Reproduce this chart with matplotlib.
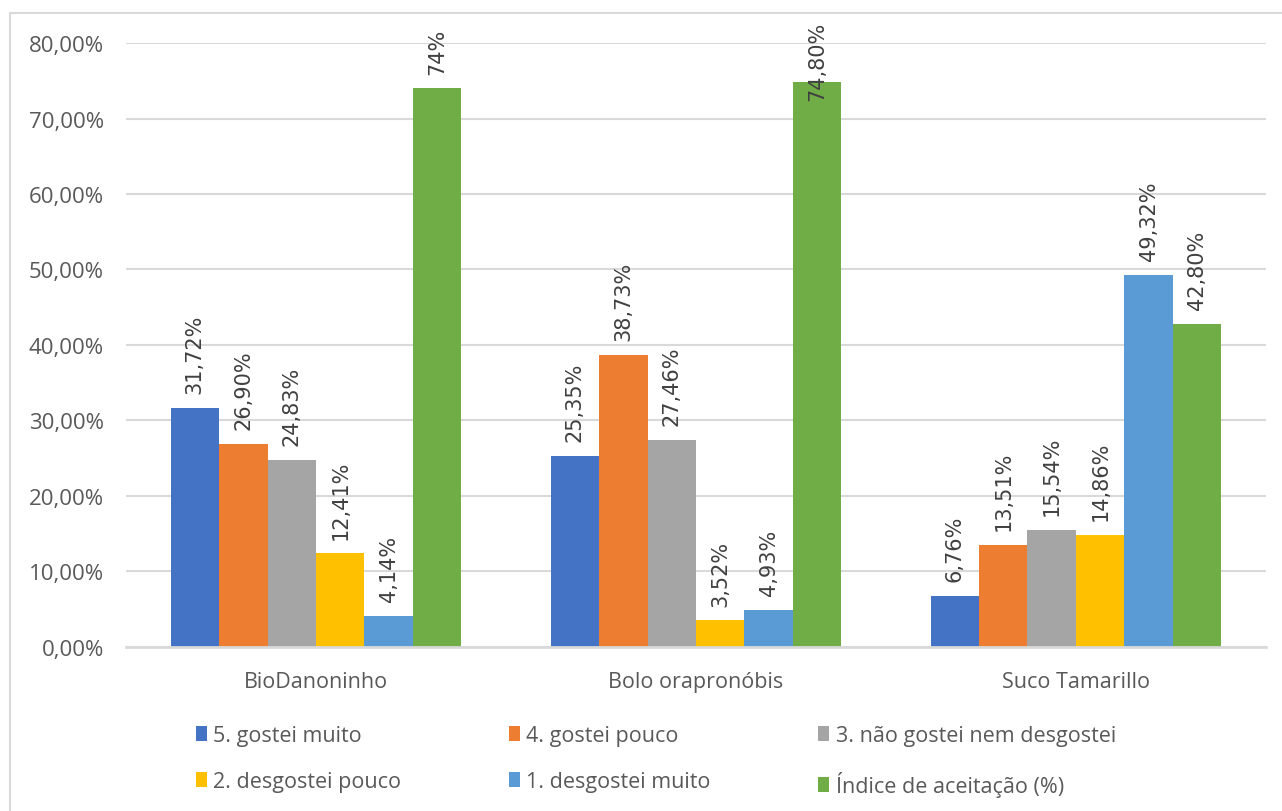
import matplotlib.pyplot as plt
import numpy as np
from matplotlib.patches import Rectangle

categories = ['BioDanoninho', 'Bolo orapronóbis', 'Suco Tamarillo']
series_names = ['5. gostei muito', '4. gostei pouco', '3. não gostei nem desgostei',
                '2. desgostei pouco', '1. desgostei muito', 'Índice de aceitação (%)']
gostei_muito = [31.72, 25.35, 6.76]
gostei_pouco = [26.90, 38.73, 13.51]
nem_nem = [24.83, 27.46, 15.54]
desgostei_pouco = [12.41, 3.52, 14.86]
desgostei_muito = [4.14, 4.93, 49.32]
indice = [74.0, 74.80, 42.80]
value_labels = [
    ['31,72%', '25,35%', '6,76%'],
    ['26,90%', '38,73%', '13,51%'],
    ['24,83%', '27,46%', '15,54%'],
    ['12,41%', '3,52%', '14,86%'],
    ['4,14%', '4,93%', '49,32%'],
    ['74%', '74,80%', '42,80%'],
]
y_ticks = [0, 10, 20, 30, 40, 50, 60, 70, 80]
y_ticklabels = ['0,00%', '10,00%', '20,00%', '30,00%', '40,00%',
                '50,00%', '60,00%', '70,00%', '80,00%']

colors = ['#4472C4', '#ED7D31', '#A5A5A5', '#FFC000', '#5B9BD5', '#70AD47']
series = [gostei_muito, gostei_pouco, nem_nem, desgostei_pouco, desgostei_muito, indice]

txt = '#595959'
fig = plt.figure(figsize=(12.82, 8.12), dpi=100)
ax = fig.add_axes([0.0983, 0.2020, 0.8892, 0.7438])

# moldura do gráfico (estilo Excel)
fig.patches.append(Rectangle((10 / 1282, -0.05), 1.2, 1 - 14 / 812 + 0.05,
                             transform=fig.transFigure, fill=False,
                             edgecolor='#D9D9D9', linewidth=1.5))

x = np.arange(len(categories))
w = 0.1276
handles = []
annots = []
for i, (vals, c) in enumerate(zip(series, colors)):
    pos = x + (i - 2.5) * w
    b = ax.bar(pos, vals, width=w, color=c, label=series_names[i], zorder=3)
    handles.append(b)
    for p, v, lab in zip(pos, vals, value_labels[i]):
        a = ax.annotate(lab, (p, v), xytext=(0, 10.5), textcoords='offset points',
                        rotation=90, ha='center', va='bottom', fontsize=15,
                        color='#404040', family='DejaVu Sans', annotation_clip=False)
        annots.append(a)

ax.set_xlim(-0.5, 2.5)
ax.set_ylim(0, 80)
ax.set_yticks(y_ticks)
ax.set_yticklabels(y_ticklabels, family='Open Sans', fontsize=16, color=txt)
ax.set_xticks(x)
ax.set_xticklabels(categories, family='Open Sans', fontsize=15.5, color=txt)
ax.tick_params(axis='both', length=0)
ax.tick_params(axis='y', pad=16)
ax.tick_params(axis='x', pad=17)
ax.grid(axis='y', color='#D9D9D9', linewidth=1.5, zorder=0)
for s in ['top', 'right', 'left']:
    ax.spines[s].set_visible(False)
ax.spines['bottom'].set_color('#D9D9D9')
ax.spines['bottom'].set_linewidth(2)
ax.spines['bottom'].set_zorder(4)

# rótulos que saem da figura são empurrados para dentro (como o Excel faz)
fig.canvas.draw()
limite = fig.bbox.height - 22
for a in annots:
    bb = a.get_window_extent()
    if bb.y1 > limite:
        a.xyann = (0, 10.5 - (bb.y1 - limite) * 72 / fig.dpi)

# legenda preenchida por linhas
order = [0, 3, 1, 4, 2, 5]
leg = fig.legend([handles[k] for k in order], [series_names[k] for k in order],
                 loc='center', bbox_to_anchor=(0.5117, 0.0616), ncol=3, frameon=False,
                 prop={'family': 'Open Sans', 'size': 15.5}, handlelength=0.5,
                 handleheight=0.7, handletextpad=0.3, columnspacing=5.0,
                 labelspacing=1.15)
for t in leg.get_texts():
    t.set_color(txt)

fig.savefig('out.png', dpi=100, facecolor='white')
